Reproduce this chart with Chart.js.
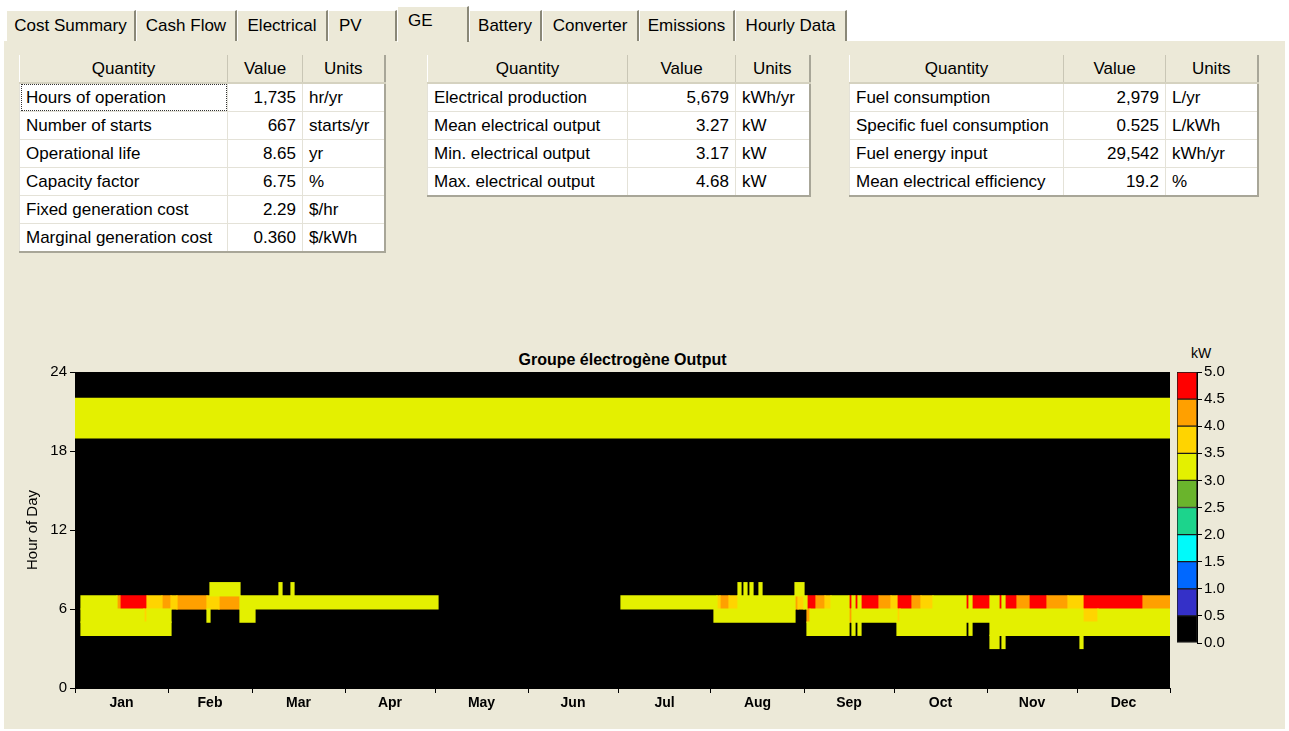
<!DOCTYPE html>
<html>
<head>
<meta charset="utf-8">
<script src="https://cdn.jsdelivr.net/npm/chart.js@4.4.0/dist/chart.umd.min.js"></script>
<style>
body { margin:0; width:1289px; height:731px; background:#fff; overflow:hidden; position:relative;
  font-family:'Liberation Sans',Arial,sans-serif; color:#000; }
#panel { position:absolute; left:4px; top:40px; width:1281px; height:688px; background:#ECE9D8; border-top:1px solid #fff; }
.tab { position:absolute; top:10px; height:31px; background:#ECE9D8; border-left:1px solid #fff; border-top:1px solid #fff;
  border-right:2px solid #8a8878; box-sizing:border-box; font-size:17px; line-height:30px; text-align:center; white-space:nowrap; }
.tab.sel { top:6px; height:36px; line-height:28px; z-index:2; }
table { position:absolute; border-collapse:collapse; table-layout:fixed; font-size:17px; background:#fff;
  border-right:2px solid #a8a698; border-bottom:2px solid #a8a698; }
th { background:#ECE9D8; font-weight:normal; height:27px; border-left:1px solid #fff; border-right:1px solid #c9c6b5; border-bottom:2px solid #d5d2c0; padding:0; }
td { height:27px; border:1px solid #e4e2d8; padding:0 6px; white-space:nowrap; overflow:hidden; }
td.v { text-align:right; }
td.focus { outline:1px dotted #333; outline-offset:-2px; }
#heat { position:absolute; left:0; top:340px; }
#scale { position:absolute; left:1160px; top:340px; }
#title { position:absolute; left:75px; width:1095px; top:351px; text-align:center; font-weight:bold; font-size:16px; }
#unit { position:absolute; left:1191px; top:345px; font-size:14px; }
</style>
</head>
<body>
<div id="panel"></div>
<div class="tab" style="left:6px;width:130px">Cost Summary</div>
<div class="tab" style="left:136px;width:101px">Cash Flow</div>
<div class="tab" style="left:237px;width:91px">Electrical</div>
<div class="tab" style="left:328px;width:69px;text-align:left;padding-left:10px">PV</div>
<div class="tab sel" style="left:397px;width:72px;text-align:left;padding-left:10px">GE</div>
<div class="tab" style="left:469px;width:73px">Battery</div>
<div class="tab" style="left:542px;width:97px">Converter</div>
<div class="tab" style="left:639px;width:96px">Emissions</div>
<div class="tab" style="left:735px;width:112px">Hourly Data</div>

<table style="left:19px;top:55px;width:365px">
<colgroup><col style="width:208px"><col style="width:75px"><col style="width:82px"></colgroup>
<tr><th>Quantity</th><th>Value</th><th>Units</th></tr>
<tr><td class="focus">Hours of operation</td><td class="v">1,735</td><td>hr/yr</td></tr>
<tr><td>Number of starts</td><td class="v">667</td><td>starts/yr</td></tr>
<tr><td>Operational life</td><td class="v">8.65</td><td>yr</td></tr>
<tr><td>Capacity factor</td><td class="v">6.75</td><td>%</td></tr>
<tr><td>Fixed generation cost</td><td class="v">2.29</td><td>$/hr</td></tr>
<tr><td>Marginal generation cost</td><td class="v">0.360</td><td>$/kWh</td></tr>
</table>

<table style="left:427px;top:55px;width:382px">
<colgroup><col style="width:200px"><col style="width:108px"><col style="width:74px"></colgroup>
<tr><th>Quantity</th><th>Value</th><th>Units</th></tr>
<tr><td>Electrical production</td><td class="v">5,679</td><td>kWh/yr</td></tr>
<tr><td>Mean electrical output</td><td class="v">3.27</td><td>kW</td></tr>
<tr><td>Min. electrical output</td><td class="v">3.17</td><td>kW</td></tr>
<tr><td>Max. electrical output</td><td class="v">4.68</td><td>kW</td></tr>
</table>

<table style="left:849px;top:55px;width:408px">
<colgroup><col style="width:214px"><col style="width:102px"><col style="width:92px"></colgroup>
<tr><th>Quantity</th><th>Value</th><th>Units</th></tr>
<tr><td>Fuel consumption</td><td class="v">2,979</td><td>L/yr</td></tr>
<tr><td>Specific fuel consumption</td><td class="v">0.525</td><td>L/kWh</td></tr>
<tr><td>Fuel energy input</td><td class="v">29,542</td><td>kWh/yr</td></tr>
<tr><td>Mean electrical efficiency</td><td class="v">19.2</td><td>%</td></tr>
</table>

<div id="title">Groupe électrogène Output</div>
<div id="unit">kW</div>
<canvas id="heat" width="1180" height="380"></canvas>
<canvas id="scale" width="100" height="320"></canvas>

<script>
"use strict";

var months = ['Jan', 'Feb', 'Mar', 'Apr', 'May', 'Jun', 'Jul', 'Aug', 'Sep', 'Oct', 'Nov', 'Dec'];
var monthDays = [31, 28, 31, 30, 31, 30, 31, 31, 30, 31, 30, 31];
var hourTicks = [0, 6, 12, 18, 24];
var kwBands = [0, 0.5, 1.0, 1.5, 2.0, 2.5, 3.0, 3.5, 4.0, 4.5, 5.0];
var kwColors = ['#000000', '#3430C8', '#0068FF', '#00FAFA', '#1CD48C', '#6AB42C', '#E4F000', '#FFD400', '#FFA000', '#FF0000'];

// generator output runs per hour of day: [first day, last day, kW] (later runs overwrite)
var hour3 = [[305, 307, 3.2], [309, 309, 3.2], [335, 335, 3.2]];
var hour4 = [[2, 31, 3.2], [244, 257, 3.2], [259, 259, 3.2], [261, 261, 3.2], [274, 296, 3.2], [298, 298, 3.2], [305, 364, 3.2]];
var hour5 = [[2, 31, 3.2], [23, 23, 3.8], [44, 44, 3.2], [55, 59, 3.2], [213, 239, 3.2], [244, 364, 3.2],
	[244, 244, 4.2], [258, 258, 4.2], [274, 274, 3.8], [336, 340, 3.8]];
var hour6 = [[2, 120, 3.2], [14, 14, 4.2], [15, 23, 4.7], [24, 28, 3.8], [29, 31, 4.2], [32, 33, 3.8], [34, 43, 4.2],
	[44, 47, 3.8], [48, 54, 4.2],
	[182, 364, 3.2], [214, 214, 3.8], [215, 217, 4.2], [218, 220, 3.8], [240, 240, 4.2], [241, 242, 3.8],
	[244, 246, 4.7], [247, 249, 4.2], [250, 251, 3.8], [258, 258, 4.7], [260, 260, 4.7], [262, 267, 4.7],
	[268, 271, 4.2], [272, 273, 3.8], [274, 278, 4.7], [279, 281, 4.2], [282, 285, 3.8], [297, 297, 4.7],
	[299, 304, 4.7], [308, 308, 4.7], [310, 313, 4.7], [314, 317, 4.2], [318, 323, 4.7], [324, 330, 4.2],
	[331, 335, 3.8], [336, 355, 4.7], [356, 364, 4.2]];
var hour7 = [[45, 54, 3.2], [68, 68, 3.2], [72, 72, 3.2], [221, 221, 3.2], [223, 223, 3.2], [225, 225, 3.2],
	[228, 228, 3.2], [240, 242, 3.2]];
var hour19 = [[0, 364, 3.2]];
var hour20 = [[0, 364, 3.2]];
var hour21 = [[0, 364, 3.2]];

var runsByHour = { 3: hour3, 4: hour4, 5: hour5, 6: hour6, 7: hour7, 19: hour19, 20: hour20, 21: hour21 };

/*******************
   BUILD THE GRID
*******************/

var dayCount = monthDays.reduce((a, b) => a + b, 0);
var grid = [];
for (var d = 0; d < dayCount; d++) grid.push(new Array(24).fill(0));

Object.keys(runsByHour).forEach(h => {
	runsByHour[h].forEach(r => {
		for (var d = r[0]; d <= r[1]; d++) grid[d][h] = r[2];
	});
});

function bandOf(v) {
	for (var i = 0; i < kwBands.length - 1; i++) {
		if (v < kwBands[i + 1]) return i;
	}
	return kwBands.length - 2;
}

// one dataset per colour band, each holding floating bars [start day, end day]
var heatData = kwColors.map(() => []);
for (var h = 0; h < 24; h++) {
	var d = 0;
	while (d < dayCount) {
		var v = grid[d][h];
		var e = d;
		while (e + 1 < dayCount && grid[e + 1][h] === v) e++;
		if (v > 0) heatData[bandOf(v)].push({ x: [d, e + 1], y: h + 0.5 });
		d = e + 1;
	}
}

var heatSets = heatData.map((pts, i) => ({
	data: pts,
	backgroundColor: kwColors[i],
	borderWidth: 0,
	inflateAmount: 0.6,
	grouped: false,
	barPercentage: 1,
	categoryPercentage: 1
})).filter(s => s.data.length);

// month boundaries and month centres on the day axis
var dayTicks = [0];
var acc = 0;
monthDays.forEach(n => {
	dayTicks.push(acc + n / 2);
	acc += n;
	dayTicks.push(acc);
});

var plotBg = {
	id: 'plotBg',
	beforeDatasetsDraw(chart) {
		var a = chart.chartArea;
		chart.ctx.save();
		chart.ctx.fillStyle = kwColors[0];
		chart.ctx.fillRect(a.left, a.top, a.width, a.height);
		chart.ctx.restore();
	}
};

Chart.defaults.font.family = "'Liberation Sans',Arial,sans-serif";
Chart.defaults.color = '#000';

/*******************
	HEAT MAP
*******************/

var heatChart = new Chart(document.getElementById('heat'), {
	type: 'bar',
	data: { datasets: heatSets },
	options: {
		indexAxis: 'y',
		responsive: false,
		animation: false,
		layout: { padding: { top: 32, right: 10 } },
		plugins: { legend: { display: false }, tooltip: { enabled: false } },
		scales: {
			x: {
				type: 'linear',
				min: 0,
				max: dayCount,
				afterBuildTicks: s => { s.ticks = dayTicks.map(v => ({ value: v })); },
				afterFit: s => { s.height = 32; },
				ticks: {
					autoSkip: false,
					maxRotation: 0,
					padding: 2,
					font: { size: 14, weight: 'bold' },
					callback: (v, i) => (i % 2 ? months[(i - 1) / 2] : '')
				},
				grid: { drawOnChartArea: false, tickLength: 5, tickColor: c => (c.index % 2 ? 'rgba(0,0,0,0)' : '#000') },
				border: { color: '#000' }
			},
			y: {
				type: 'linear',
				min: 0,
				max: 24,
				offset: false,
				afterBuildTicks: s => { s.ticks = hourTicks.map(v => ({ value: v })); },
				afterFit: s => { s.width = 75; },
				ticks: { font: { size: 15 }, padding: 3 },
				grid: { offset: false, drawOnChartArea: false, tickLength: 5, tickColor: '#000' },
				border: { color: '#000' },
				title: { display: true, text: 'Hour of Day', font: { size: 15 }, padding: { top: 24, bottom: 0 } }
			}
		}
	},
	plugins: [plotBg]
});

/*******************
	COLOUR SCALE
*******************/

var scaleChart = new Chart(document.getElementById('scale'), {
	type: 'bar',
	data: {
		labels: ['kW'],
		datasets: kwColors.map((c, i) => ({
			data: [kwBands[i + 1] - kwBands[i]],
			backgroundColor: c,
			borderColor: '#1a1a1a',
			borderWidth: 1,
			borderSkipped: false,
			barPercentage: 1,
			categoryPercentage: 1
		}))
	},
	options: {
		responsive: false,
		animation: false,
		layout: { padding: { top: 32, left: 17, bottom: 17 } },
		plugins: { legend: { display: false }, tooltip: { enabled: false } },
		scales: {
			x: { display: false, stacked: true },
			y: {
				stacked: true,
				position: 'right',
				min: 0,
				max: 5,
				afterBuildTicks: s => { s.ticks = kwBands.map(v => ({ value: v })); },
				afterFit: s => { s.width = 63; },
				ticks: { font: { size: 15 }, padding: 2, callback: v => v.toFixed(1) },
				grid: { drawOnChartArea: false, tickLength: 5, tickColor: '#000' },
				border: { color: '#000' }
			}
		}
	}
});
</script>
</body>
</html>
